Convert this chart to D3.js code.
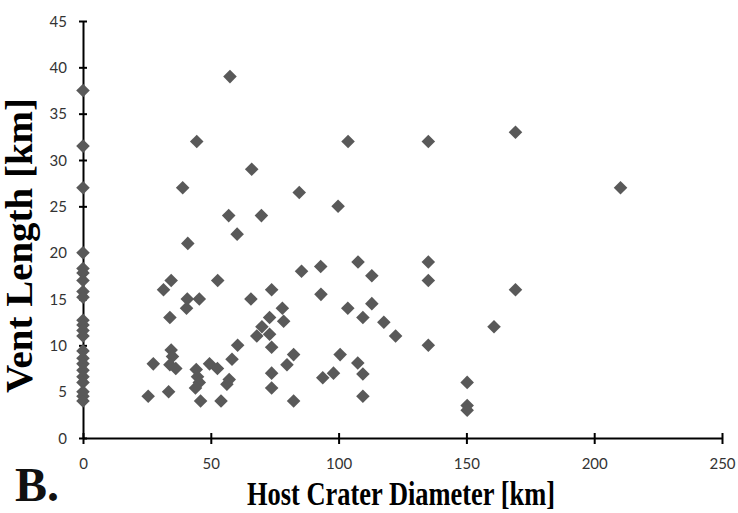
<!DOCTYPE html>
<html>
<head>
<meta charset="utf-8">
<script src="https://cdn.jsdelivr.net/npm/d3@7"></script>
<style>
  html, body { margin: 0; padding: 0; background: #fff; }
  svg { display: block; }
</style>
</head>
<body>
<svg id="chart" width="738" height="513"></svg>
<script>
// Host crater diameter (km) and vent length (km) for each vent
const craterDiameter = [
  0, 0, 0, 0, 0, 0, 0, 0, 0, 0, 0, 0, 0, 0, 0, 0, 0, 0, 0, 0, 0, 0,
  25.5, 27.5, 31.5, 33.5, 34, 34.5, 34.5, 35, 34, 36.3,
  39, 40.5, 40.8, 41, 44.5, 44.3, 44.8, 45.5, 44, 46, 45.5,
  49.5, 52.6, 52.7, 54, 56.3, 57.2, 57, 57.5, 58.3, 60.3, 60.5,
  66, 65.7, 68, 70, 69.8, 73, 73, 73.8, 73.8, 73.8, 73.8,
  78, 78.5, 79.8, 82.4, 82.4, 84.6, 85.5,
  93, 93.1, 93.8, 98, 99.8, 100.6, 103.7, 103.6, 107.5, 107.6,
  109.5, 109.5, 109.5, 113, 113, 117.7, 122.3,
  135.1, 135.1, 135.1, 135.1, 150.3, 150.3, 150.3, 160.8, 169.2, 169.2, 210.3
];
const ventLength = [
  37.5, 31.5, 27, 20, 18.3, 17.8, 17, 15.8, 15.2, 12.7, 12.2, 11.6, 11, 9.4, 8.6, 8, 7.3, 6.6, 6, 5, 4.5, 4,
  4.5, 8, 16, 5, 13, 17, 9.5, 8.8, 7.9, 7.5,
  27, 14, 15, 21, 32, 7.4, 6.6, 6, 5.4, 4, 15,
  8, 7.5, 17, 4, 5.8, 6.3, 24, 39, 8.5, 22, 10,
  29, 15, 11, 12, 24, 13, 11.2, 16, 9.8, 7, 5.4,
  14, 12.6, 7.9, 9, 4, 26.5, 18,
  18.5, 15.5, 6.5, 7, 25, 9, 32, 14, 8.1, 19,
  13, 6.9, 4.5, 17.5, 14.5, 12.5, 11,
  32, 19, 17, 10, 6, 3.5, 3, 12, 33, 16, 27
];
const xTicks = [0, 50, 100, 150, 200, 250];
const yTicks = [0, 5, 10, 15, 20, 25, 30, 35, 40, 45];

const points = craterDiameter.map((d, i) => ({ x: d, y: ventLength[i] }));

const svg = d3.select("#chart");

const x = d3.scaleLinear().domain([0, 250]).range([83, 722]);
const y = d3.scaleLinear().domain([0, 45]).range([438, 21]);

const tickFont = "Lato, 'Open Sans', sans-serif";

// x axis: ticks cross the axis line
const xAxis = svg.append("g").attr("transform", `translate(0,${y(0)})`)
  .call(d3.axisBottom(x).tickValues(xTicks).tickSize(0).tickPadding(0).tickFormat(""));
xAxis.select(".domain").attr("stroke", "#000").attr("stroke-width", 2);
xAxis.selectAll(".tick").append("line")
  .attr("y1", -5).attr("y2", 6).attr("stroke", "#000").attr("stroke-width", 2);
xAxis.selectAll(".tick").append("text")
  .attr("y", 31).attr("text-anchor", "middle")
  .attr("fill", "#333").attr("font-family", tickFont).attr("font-size", 15)
  .text(d => d);

// y axis
const yAxis = svg.append("g").attr("transform", `translate(${x(0)},0)`)
  .call(d3.axisLeft(y).tickValues(yTicks).tickSize(0).tickPadding(0).tickFormat(""));
yAxis.select(".domain").attr("stroke", "#000").attr("stroke-width", 2);
yAxis.selectAll(".tick").append("line")
  .attr("x1", -4).attr("x2", 4).attr("stroke", "#000").attr("stroke-width", 2);
yAxis.selectAll(".tick").append("text")
  .attr("x", -16).attr("dy", "0.35em").attr("text-anchor", "end")
  .attr("fill", "#333").attr("font-family", tickFont).attr("font-size", 15)
  .text(d => d);

// diamond markers
const diamond = d3.symbol().type(d3.symbolSquare).size(92);
svg.append("g").selectAll("path")
  .data(points)
  .join("path")
  .attr("d", diamond)
  .attr("transform", d => `translate(${x(d.x)},${y(d.y)}) rotate(45)`)
  .attr("fill", "#595959");

// axis titles
const titleFont = "'Liberation Serif', 'Times New Roman', serif";
svg.append("text")
  .attr("transform", "translate(32,245.5) rotate(-90)")
  .attr("text-anchor", "middle")
  .attr("font-family", titleFont).attr("font-weight", "bold").attr("font-size", 37)
  .attr("textLength", 295).attr("lengthAdjust", "spacingAndGlyphs")
  .attr("fill", "#000")
  .text("Vent Length [km]");

svg.append("text")
  .attr("x", 401).attr("y", 505)
  .attr("text-anchor", "middle")
  .attr("font-family", titleFont).attr("font-weight", "bold").attr("font-size", 34)
  .attr("textLength", 308).attr("lengthAdjust", "spacingAndGlyphs")
  .attr("fill", "#000")
  .text("Host Crater Diameter [km]");

svg.append("text")
  .attr("x", 15).attr("y", 501)
  .attr("font-family", titleFont).attr("font-weight", "bold").attr("font-size", 48)
  .attr("fill", "#111")
  .text("B.");
</script>
</body>
</html>
